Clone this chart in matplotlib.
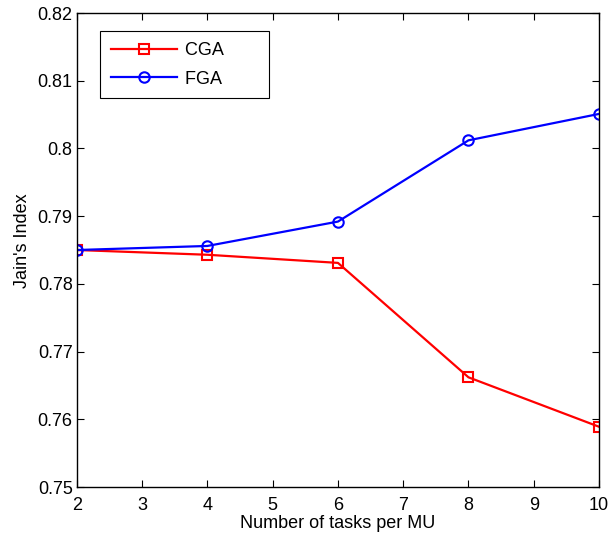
import matplotlib
matplotlib.use("Agg")
import matplotlib.pyplot as plt

plt.rcParams["font.family"] = ["Liberation Sans", "DejaVu Sans"]

tasks = [2, 4, 6, 8, 10]
cga = [0.7850, 0.7843, 0.7831, 0.7662, 0.7589]
fga = [0.7850, 0.7856, 0.7892, 0.8012, 0.8051]
xticks = [2, 3, 4, 5, 6, 7, 8, 9, 10]
yticks = [0.75, 0.76, 0.77, 0.78, 0.79, 0.80, 0.81, 0.82]
yticklabels = ["0.75", "0.76", "0.77", "0.78", "0.79", "0.8", "0.81", "0.82"]

fig = plt.figure(figsize=(6.1, 5.34), dpi=100)
ax = fig.add_axes([0.126, 0.088, 0.856, 0.8876])

ax.plot(tasks, cga, color="red", lw=1.6, marker="s", ms=7, mfc="none",
        mew=1.5, label="CGA       ")
ax.plot(tasks, fga, color="blue", lw=1.6, marker="o", ms=7.5, mfc="none",
        mew=1.5, label="FGA       ")

ax.set_xlim(2, 10)
ax.set_ylim(0.75, 0.82)
ax.set_xticks(xticks)
ax.set_yticks(yticks)
ax.set_yticklabels(yticklabels)
ax.tick_params(direction="in", top=True, right=True, length=5, labelsize=13,
               width=0.8)
ax.tick_params(axis="x", pad=7)
ax.tick_params(axis="y", pad=3)
for s in ax.spines.values():
    s.set_linewidth(1.0)

ax.set_xlabel("Number of tasks per MU", fontsize=13, labelpad=1)
ax.set_ylabel("Jain's Index", fontsize=13)
ax.yaxis.set_label_coords(-0.088, 0.52)

leg = ax.legend(loc="upper left", bbox_to_anchor=(0.044, 0.962), fontsize=13,
                fancybox=False, edgecolor="black", framealpha=1,
                borderaxespad=0, handlelength=3.67, handletextpad=0.44,
                borderpad=0.6, labelspacing=0.65)
leg.get_frame().set_linewidth(0.8)

fig.savefig("out.png", dpi=100)
